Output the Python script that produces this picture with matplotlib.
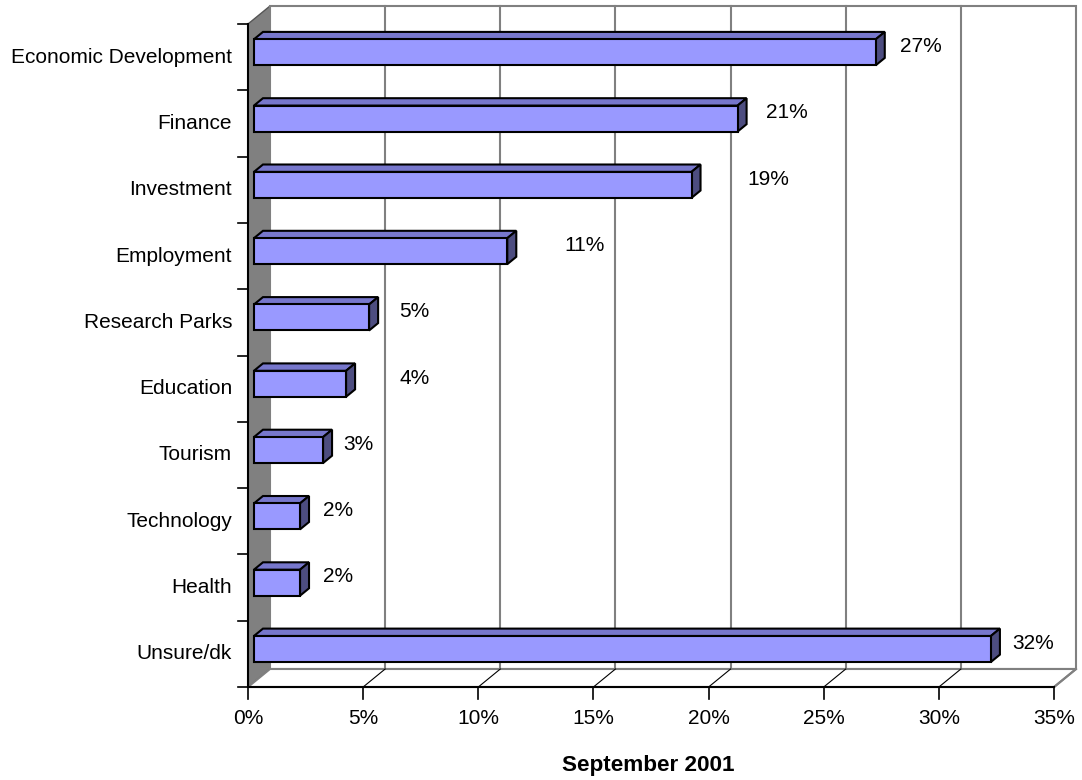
import matplotlib
matplotlib.use('Agg')
from matplotlib import pyplot as plt
from matplotlib.patches import Polygon
import numpy as np

categories = ["Economic Development", "Finance", "Investment", "Employment", "Research Parks",
              "Education", "Tourism", "Technology", "Health", "Unsure/dk"]
values = [27, 21, 19, 11, 5, 4, 3, 2, 2, 32]
value_labels = ["27%", "21%", "19%", "11%", "5%", "4%", "3%", "2%", "2%", "32%"]
x_ticks = [0, 5, 10, 15, 20, 25, 30, 35]
x_tick_labels = ["0%", "5%", "10%", "15%", "20%", "25%", "30%", "35%"]
title = "September 2001"

# where excel put the value labels (in % along the front plane)
label_x = [29.2, 23.4, 22.6, 14.6, 7.2, 7.25, 4.8, 3.9, 3.9, 34.1]

plt.rcParams['font.family'] = ['Liberation Sans', 'DejaVu Sans']
FS = 15

# pixel layout of the front plane
PX_PER_PCT = 23.03
PX_PER_CAT = 66.3
X0, Y0 = 248, 687
W, H = 1082, 780

# 3d depth in data units
DX = 22 / PX_PER_PCT
DY = 18 / PX_PER_CAT
f1, f2 = 0.27, 0.68
bar_h = 26 / PX_PER_CAT

face = "#9999FF"
top_c = "#7777CC"
side_c = "#4D4D80"
wall = "#808080"

fig = plt.figure(figsize=(W / 100, H / 100), dpi=100)
ax = fig.add_axes([0, 0, 1, 1])
ax.set_xlim(-X0 / PX_PER_PCT, (W - X0) / PX_PER_PCT)
ax.set_ylim((Y0 - H) / PX_PER_CAT, Y0 / PX_PER_CAT)
ax.axis('off')

n = len(categories)
xmax = x_ticks[-1]

# left side wall
ax.add_patch(Polygon([(0, 0), (0, n), (DX, n + DY), (DX, DY)], closed=True,
                     facecolor=wall, edgecolor="#555555", lw=1, zorder=1))
# back wall
ax.add_patch(Polygon([(DX, DY), (DX, n + DY), (xmax + DX, n + DY), (xmax + DX, DY)], closed=True,
                     facecolor="white", edgecolor=wall, lw=1.5, zorder=1))
# floor
ax.add_patch(Polygon([(0, 0), (xmax, 0), (xmax + DX, DY), (DX, DY)], closed=True,
                     facecolor="white", edgecolor=wall, lw=1.5, zorder=1))
for t in x_ticks[1:-1]:
    ax.plot([t + DX, t + DX], [DY, n + DY], color=wall, lw=1.5, zorder=2)
    ax.plot([t, t + DX], [0, DY], color="black", lw=0.8, zorder=2)
ax.plot([xmax, xmax + DX], [0, DY], color=wall, lw=1.5, zorder=2)

# front axes + ticks
ax.plot([0, 0], [0, n], color="black", lw=1.5, zorder=3)
ax.plot([0, xmax], [0, 0], color="black", lw=1.5, zorder=3)
for k in range(n + 1):
    ax.plot([-10 / PX_PER_PCT, 0], [k, k], color="black", lw=1.2, zorder=3)
for t, lab in zip(x_ticks, x_tick_labels):
    ax.plot([t, t], [0, -12 / PX_PER_CAT], color="black", lw=1.2, zorder=3)
    ax.text(t, -31 / PX_PER_CAT, lab, ha="center", va="center", fontsize=FS)

centers = n - 0.5 - np.arange(n)

# bars: front face, then top and side faces
ax.barh(centers + f1 * DY, values, height=bar_h, left=f1 * DX,
        color=face, edgecolor="black", lw=1.5, zorder=5)
ddx, ddy = (f2 - f1) * DX, (f2 - f1) * DY
for c, v in zip(centers, values):
    x_l = f1 * DX
    x_r = v + f1 * DX
    y_t = c + f1 * DY + bar_h / 2
    y_b = c + f1 * DY - bar_h / 2
    ax.add_patch(Polygon([(x_l, y_t), (x_r, y_t), (x_r + ddx, y_t + ddy), (x_l + ddx, y_t + ddy)],
                         closed=True, facecolor=top_c, edgecolor="black", lw=1.5, zorder=4))
    ax.add_patch(Polygon([(x_r, y_b), (x_r, y_t), (x_r + ddx, y_t + ddy), (x_r + ddx, y_b + ddy)],
                         closed=True, facecolor=side_c, edgecolor="black", lw=1.5, zorder=4))

for c, lab in zip(centers, categories):
    ax.text(-16 / PX_PER_PCT, c, lab, ha="right", va="center", fontsize=FS)

for c, lx, lab in zip(centers, label_x, value_labels):
    ax.text(lx, c + 0.16, lab, ha="center", va="center", fontsize=FS)

ax.text(17.37, -79 / PX_PER_CAT, title, ha="center", va="center",
        fontsize=16.2, fontweight="bold")

plt.savefig("out.png", dpi=100)
plt.close(fig)
